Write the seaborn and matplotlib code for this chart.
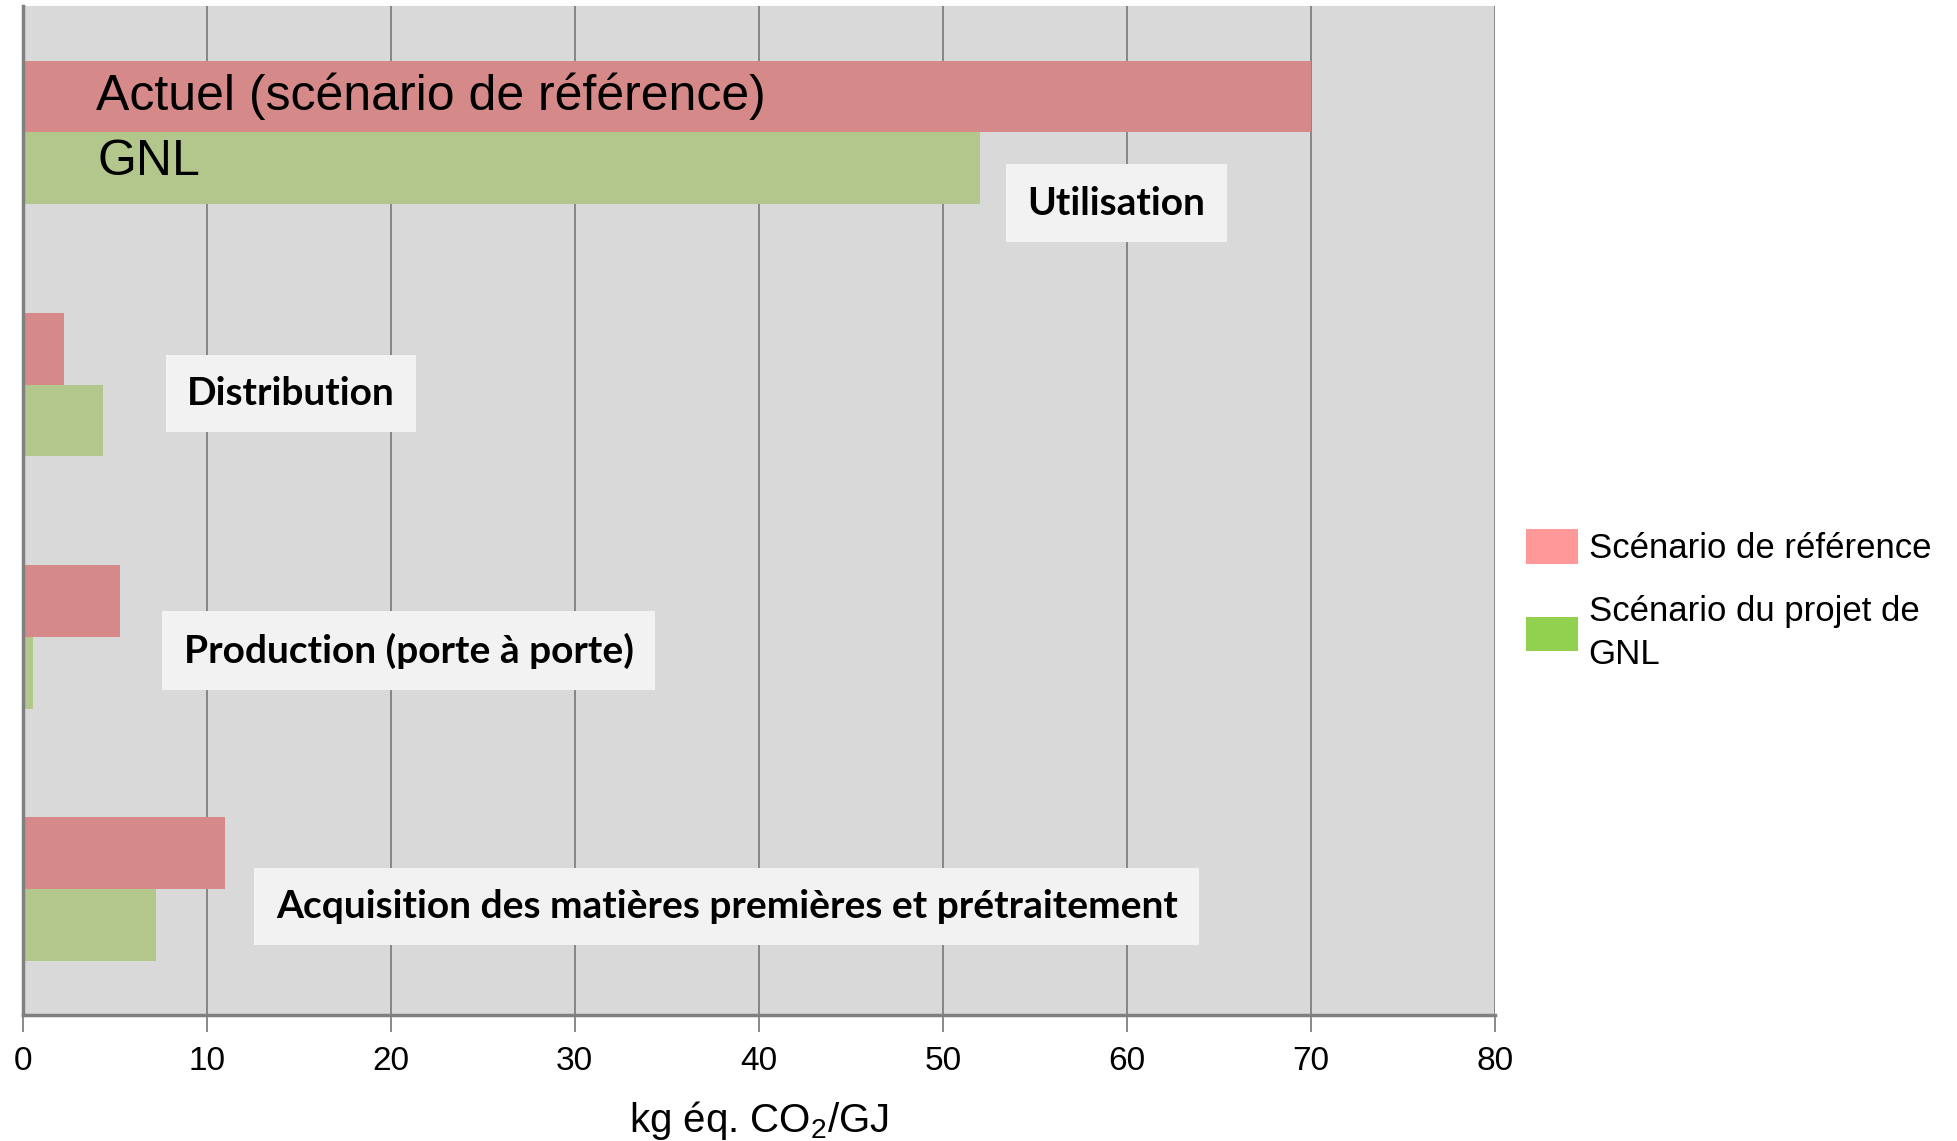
import matplotlib
matplotlib.use("Agg")
import matplotlib.pyplot as plt
import seaborn as sns
import pandas as pd
from matplotlib.patches import Patch

# ---- data ----
categories = ["Utilisation", "Distribution", "Production (porte à porte)",
              "Acquisition des matières premières et prétraitement"]
series_names = ["Actuel (scénario de référence)", "GNL"]
reference_values = [70.0, 2.25, 5.3, 11.0]
gnl_values = [52.0, 4.35, 0.57, 7.25]
xticks = [0, 10, 20, 30, 40, 50, 60, 70, 80]
legend_labels = ["Scénario de référence", "Scénario du projet de\nGNL"]
xlabel = "kg éq. CO$_2$/GJ"

df = pd.DataFrame({
    "cat": categories * 2,
    "serie": [series_names[0]] * 4 + [series_names[1]] * 4,
    "val": reference_values + gnl_values,
})

sns.set_theme(style="white")
plain = ["Liberation Sans", "DejaVu Sans"]
plt.rcParams["font.family"] = plain
plt.rcParams["text.color"] = "black"
plt.rcParams["mathtext.fontset"] = "custom"
plt.rcParams["mathtext.rm"] = "Liberation Sans"
plt.rcParams["mathtext.it"] = "Liberation Sans"

fig = plt.figure(figsize=(19.57, 11.41), dpi=100)
ax = fig.add_axes([0.0115, 0.1104, 0.7525, 0.884])
ax.set_facecolor("#D9D9D9")

sns.barplot(data=df, y="cat", x="val", hue="serie", order=categories,
            hue_order=series_names, palette=["#D58A89", "#B3C78D"],
            width=0.57, orient="h", ax=ax, legend=False, saturation=1,
            linewidth=0)

ax.set_xlim(0, 80)
ax.set_ylim(3.5, -0.5)
ax.set_xticks(xticks)
ax.set_xticklabels([str(t) for t in xticks], fontsize=24, color="black")
ax.set_yticks([])
ax.set_ylabel("")
ax.set_xlabel(xlabel, fontsize=29, labelpad=16, color="black")

ax.grid(axis="x", color="#808080", linewidth=1.3)
ax.set_axisbelow(True)
for s in ["top", "right"]:
    ax.spines[s].set_visible(False)
for s in ["left", "bottom"]:
    ax.spines[s].set_color("#808080")
    ax.spines[s].set_linewidth(2.5)
ax.tick_params(axis="x", direction="out", length=12, width=1.3,
               color="#808080", pad=10, bottom=True)

# series labels inside top bars
ax.text(4.0, -0.144, series_names[0], fontsize=36, va="center", ha="left",
        color="black")
ax.text(4.07, 0.119, series_names[1], fontsize=36, va="center", ha="left",
        color="black")

# category annotations
bold = ["Lato", "DejaVu Sans"]
ann = [(54.6, 0.28), (8.95, 1.035), (8.75, 2.055), (13.76, 3.07)]
for (x, y), c in zip(ann, categories):
    ax.text(x, y, c, fontsize=28, fontweight="bold", family=bold,
            va="center", ha="left", color="black",
            bbox=dict(boxstyle="square,pad=0.55", fc="#F2F2F2", ec="none"))

handles = [Patch(facecolor="#FF9999", edgecolor="none"),
           Patch(facecolor="#92D050", edgecolor="none")]
leg = fig.legend(handles, legend_labels, loc="upper left",
                 bbox_to_anchor=(1495 / 1957, 1 - 498 / 1141),
                 bbox_transform=fig.transFigure,
                 frameon=False,
                 prop={"family": plain, "size": 25},
                 handlelength=1.5, handleheight=1.15, handletextpad=0.3,
                 labelspacing=0.86)
for t in leg.get_texts():
    t.set_linespacing(1.37)

fig.savefig("out.png", dpi=100)
